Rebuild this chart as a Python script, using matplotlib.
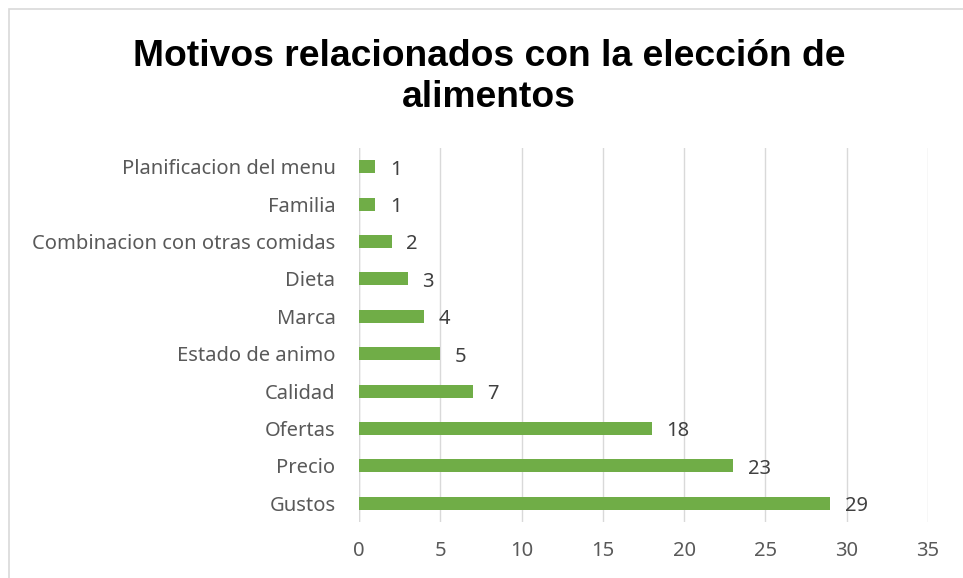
import matplotlib
matplotlib.use("Agg")
import matplotlib.pyplot as plt
from matplotlib.patches import Rectangle

categorias = ["Gustos", "Precio", "Ofertas", "Calidad", "Estado de animo", "Marca",
              "Dieta", "Combinacion con otras comidas", "Familia", "Planificacion del menu"]
valores = [29, 23, 18, 7, 5, 4, 3, 2, 1, 1]
ticks_x = [0, 5, 10, 15, 20, 25, 30, 35]

verde = "#70AD47"
gris_texto = "#595959"

fig = plt.figure(figsize=(9.63, 5.78), dpi=100)
# marco del grafico
fig.patches.append(Rectangle((9 / 963, -0.05), 1.2, 1 - 9 / 578 + 0.05,
                             transform=fig.transFigure, fill=False,
                             edgecolor="#D9D9D9", linewidth=1.2))

ax = fig.add_axes([359 / 963, 1 - 522 / 578, (928 - 359) / 963, (522 - 148) / 578])
pos = range(len(categorias))
ax.barh(pos, valores, height=0.35, color=verde, zorder=3)

for p, v in zip(pos, valores):
    ax.text(v + 0.9, p - 0.08, str(v), va="center", ha="left", fontsize=14.5,
            color="#404040", family="Noto Sans")

ax.set_xlim(0, 35)
ax.set_ylim(-0.5, len(categorias) - 0.5)
ax.set_xticks(ticks_x)
ax.set_yticks(list(pos))
ax.set_yticklabels(categorias)
ax.grid(axis="x", color="#D9D9D9", linewidth=1, zorder=0)
for s in ax.spines.values():
    s.set_visible(False)
ax.axvline(0, color="#D9D9D9", linewidth=1, zorder=1)
ax.tick_params(length=0, labelsize=14.5, colors=gris_texto)
ax.tick_params(axis="y", pad=17)
ax.tick_params(axis="x", pad=14)
for t in ax.get_xticklabels() + ax.get_yticklabels():
    t.set_family("Noto Sans")

fig.text(489 / 963, 1 - 77 / 578, "Motivos relacionados con la elección de\nalimentos",
         ha="center", va="center", fontsize=26.8, fontweight="bold",
         family="Liberation Sans", linespacing=1.2)

fig.savefig("out.png", dpi=100)
